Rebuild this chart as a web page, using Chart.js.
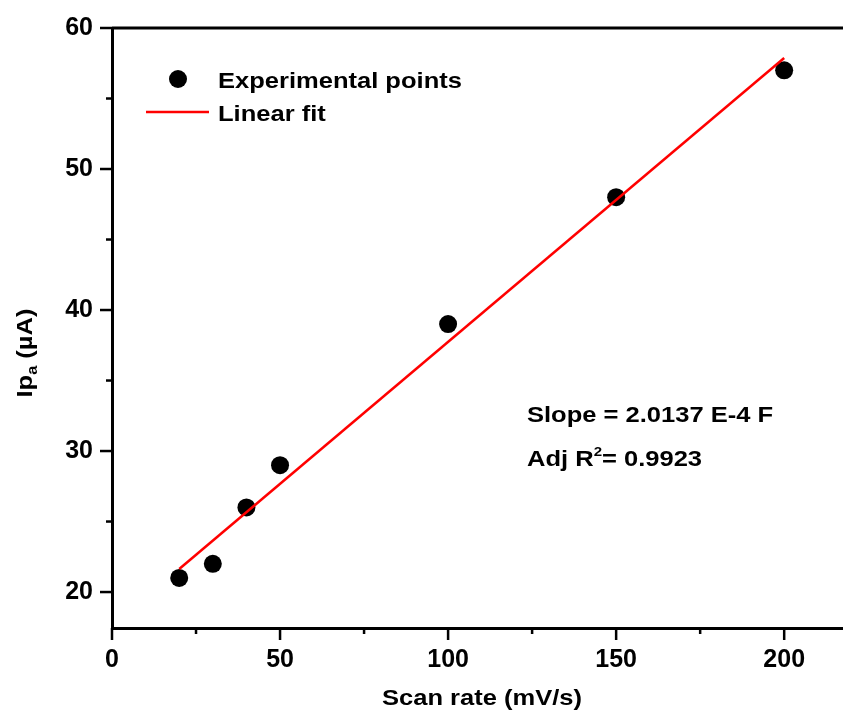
<!DOCTYPE html>
<html>
<head>
<meta charset="utf-8">
<script src="https://cdn.jsdelivr.net/npm/chart.js@4/dist/chart.umd.min.js"></script>
<style>
  html, body { margin: 0; padding: 0; background: #fff; }
  canvas { display: block; }
</style>
</head>
<body>
<canvas id="chart" width="843" height="715"></canvas>
<script>
// Anodic peak current versus scan rate, with its linear fit
const scanRates = [20, 30, 40, 50, 100, 150, 200];      // mV/s
const peakCurrents = [21, 22, 26, 29, 39, 48, 57];       // µA
const fitX = [20, 200];
const fitY = [21.63, 57.87];

const xMajorTicks = [0, 50, 100, 150, 200];
const xMinorTicks = [25, 75, 125, 175];
const yMajorTicks = [20, 30, 40, 50, 60];
const yMinorTicks = [25, 35, 45, 55];

const seriesNames = ['Experimental points', 'Linear fit'];
const slopeText = 'Slope = 2.0137 E-4 F';
const rSquaredText = ['Adj R', '2', '= 0.9923'];
const xTitle = 'Scan rate (mV/s)';
const yTitle = ['Ip', 'a', ' (\u00B5A)'];

const FONT = '"Liberation Sans", Arial, Helvetica, sans-serif';
const STRETCH = 1.16;

// Draws a run of text pieces (sub/superscripts included) from a left baseline point
function drawRich(ctx, parts, x, y, sx) {
  ctx.save();
  ctx.translate(x, y);
  ctx.scale(sx, 1);
  ctx.textAlign = 'left';
  ctx.textBaseline = 'alphabetic';
  ctx.fillStyle = '#000';
  let cx = 0;
  for (const p of parts) {
    ctx.font = 'bold ' + p.size + 'px ' + FONT;
    ctx.fillText(p.t, cx, p.dy || 0);
    cx += ctx.measureText(p.t).width;
  }
  ctx.restore();
}

function richWidth(ctx, parts, sx) {
  let w = 0;
  ctx.save();
  for (const p of parts) {
    ctx.font = 'bold ' + p.size + 'px ' + FONT;
    w += ctx.measureText(p.t).width;
  }
  ctx.restore();
  return w * sx;
}

const decorations = {
  id: 'decorations',
  afterDraw(chart) {
    const { ctx, chartArea: area, scales: { x, y } } = chart;
    ctx.save();
    ctx.strokeStyle = '#000';
    ctx.lineCap = 'butt';

    // top frame line
    ctx.lineWidth = 3;
    ctx.beginPath();
    ctx.moveTo(area.left, area.top);
    ctx.lineTo(chart.width, area.top);
    ctx.stroke();

    // outward tick marks
    ctx.lineWidth = 2.5;
    const tick = (vals, len, isX) => {
      for (const v of vals) {
        ctx.beginPath();
        if (isX) {
          const px = x.getPixelForValue(v);
          ctx.moveTo(px, area.bottom);
          ctx.lineTo(px, area.bottom + len);
        } else {
          const py = y.getPixelForValue(v);
          ctx.moveTo(area.left, py);
          ctx.lineTo(area.left - len, py);
        }
        ctx.stroke();
      }
    };
    tick(xMajorTicks, 12, true);
    tick(xMinorTicks, 6, true);
    tick(yMajorTicks, 12, false);
    tick(yMinorTicks, 6, false);

    // legend
    const pts = chart.data.datasets[0];
    const fit = chart.data.datasets[1];
    ctx.fillStyle = pts.backgroundColor;
    ctx.beginPath();
    ctx.arc(area.left + 66, area.top + 51, pts.pointRadius, 0, Math.PI * 2);
    ctx.fill();
    ctx.strokeStyle = fit.borderColor;
    ctx.lineWidth = fit.borderWidth;
    ctx.beginPath();
    ctx.moveTo(area.left + 34, area.top + 84);
    ctx.lineTo(area.left + 97, area.top + 84);
    ctx.stroke();
    drawRich(ctx, [{ t: seriesNames[0], size: 22 }], area.left + 106, area.top + 60, STRETCH);
    drawRich(ctx, [{ t: seriesNames[1], size: 22 }], area.left + 106, area.top + 93, STRETCH);

    // fit statistics
    drawRich(ctx, [{ t: slopeText, size: 22 }], 527, 422, STRETCH);
    drawRich(ctx, [
      { t: rSquaredText[0], size: 22 },
      { t: rSquaredText[1], size: 13, dy: -10 },
      { t: rSquaredText[2], size: 22 }
    ], 527, 466, STRETCH);

    // x axis title
    const xParts = [{ t: xTitle, size: 22 }];
    const xw = richWidth(ctx, xParts, STRETCH);
    drawRich(ctx, xParts, 482 - xw / 2, 705, STRETCH);

    // y axis title, rotated
    const yParts = [
      { t: yTitle[0], size: 22 },
      { t: yTitle[1], size: 14, dy: 5 },
      { t: yTitle[2], size: 22 }
    ];
    const yw = richWidth(ctx, yParts, STRETCH);
    ctx.save();
    ctx.translate(31.5, 353 + yw / 2);
    ctx.rotate(-Math.PI / 2);
    drawRich(ctx, yParts, 0, 0, STRETCH);
    ctx.restore();

    ctx.restore();
  }
};

const tickFont = { family: FONT, size: 25, weight: 'bold' };

new Chart(document.getElementById('chart'), {
  type: 'scatter',
  data: {
    datasets: [
      {
        label: seriesNames[0],
        data: scanRates.map((v, i) => ({ x: v, y: peakCurrents[i] })),
        pointRadius: 9,
        pointHoverRadius: 9,
        backgroundColor: '#000000',
        borderColor: '#000000',
        borderWidth: 0,
        order: 1
      },
      {
        label: seriesNames[1],
        data: fitX.map((v, i) => ({ x: v, y: fitY[i] })),
        showLine: true,
        pointRadius: 0,
        borderColor: '#ff0000',
        backgroundColor: '#ff0000',
        borderWidth: 2.5,
        fill: false,
        order: 0
      }
    ]
  },
  options: {
    responsive: false,
    animation: false,
    events: [],
    layout: { autoPadding: false, padding: { top: 28, left: 0, right: 0, bottom: 0 } },
    plugins: {
      legend: { display: false },
      tooltip: { enabled: false }
    },
    scales: {
      x: {
        type: 'linear',
        min: 0,
        max: 217.5,
        border: { display: true, color: '#000', width: 3 },
        grid: { display: false, drawTicks: false },
        ticks: { font: tickFont, color: '#000', padding: 17, maxRotation: 0 },
        afterBuildTicks: s => { s.ticks = xMajorTicks.map(v => ({ value: v })); },
        afterFit: s => {
          s.height = 87;
          s.paddingLeft = 0; s.paddingRight = 0; s.paddingTop = 0; s.paddingBottom = 0;
        }
      },
      y: {
        type: 'linear',
        min: 17.45,
        max: 60,
        border: { display: true, color: '#000', width: 3 },
        grid: { display: false, drawTicks: false },
        ticks: { font: tickFont, color: '#000', padding: 19 },
        afterBuildTicks: s => { s.ticks = yMajorTicks.map(v => ({ value: v })); },
        afterFit: s => {
          s.width = 112;
          s.paddingLeft = 0; s.paddingRight = 0; s.paddingTop = 0; s.paddingBottom = 0;
        }
      }
    }
  },
  plugins: [decorations]
});
</script>
</body>
</html>
